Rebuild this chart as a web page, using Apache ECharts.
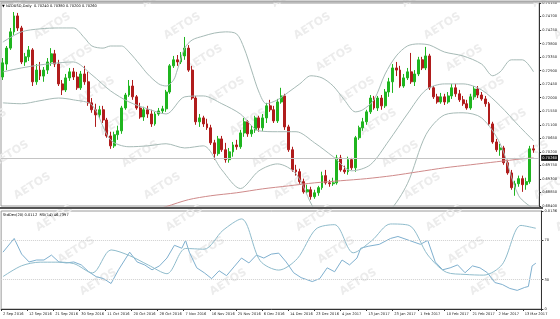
<!DOCTYPE html>
<html>
<head>
<meta charset="utf-8">
<script src="https://cdn.jsdelivr.net/npm/echarts@6/dist/echarts.min.js"></script>
<style>
html, body { margin: 0; padding: 0; background: #fff; }
#chart { width: 560px; height: 319px; }
</style>
</head>
<body>
<div id="chart"></div>
<script>
// date labels shown every 7 bars on the bottom axis
var dateLabels = ['2 Sep 2016', '12 Sep 2016', '21 Sep 2016', '30 Sep 2016', '11 Oct 2016', '20 Oct 2016',
    '28 Oct 2016', '7 Nov 2016', '16 Nov 2016', '25 Nov 2016', '6 Dec 2016', '14 Dec 2016', '23 Dec 2016',
    '4 Jan 2017', '13 Jan 2017', '23 Jan 2017', '1 Feb 2017', '10 Feb 2017', '21 Feb 2017', '2 Mar 2017', '13 Mar 2017'];

// daily bars: [open, close, low, high]
var ohlc = [
    [0.7269, 0.7316, 0.7259, 0.7332], [0.7312, 0.7365, 0.7292, 0.7372], [0.7365, 0.7419, 0.7359, 0.7432], [0.7419, 0.7472, 0.7409, 0.7485],
    [0.7472, 0.7432, 0.7422, 0.7482], [0.7432, 0.7319, 0.7312, 0.7439], [0.7319, 0.7336, 0.7306, 0.7349], [0.7336, 0.7359, 0.7322, 0.7372],
    [0.7359, 0.7253, 0.7239, 0.7365], [0.7253, 0.7292, 0.7243, 0.7312], [0.7292, 0.7272, 0.7259, 0.7319], [0.7272, 0.7292, 0.7253, 0.7302],
    [0.7292, 0.7319, 0.7279, 0.7332], [0.7319, 0.7346, 0.7306, 0.7365], [0.7346, 0.7312, 0.7302, 0.7359], [0.7312, 0.7246, 0.7239, 0.7326],
    [0.7246, 0.7226, 0.7209, 0.7259], [0.7226, 0.7266, 0.7219, 0.7279], [0.7266, 0.7286, 0.7256, 0.7299], [0.7286, 0.7269, 0.7259, 0.7299],
    [0.7269, 0.7233, 0.7226, 0.7286], [0.7233, 0.7279, 0.7226, 0.7289], [0.7279, 0.7253, 0.7243, 0.7306], [0.7253, 0.7183, 0.7173, 0.7286],
    [0.7183, 0.7160, 0.7150, 0.7199], [0.7160, 0.7143, 0.7103, 0.7180], [0.7143, 0.7160, 0.7133, 0.7173], [0.7160, 0.7126, 0.7116, 0.7173],
    [0.7126, 0.7073, 0.7067, 0.7133], [0.7073, 0.7040, 0.7030, 0.7087], [0.7040, 0.7077, 0.7033, 0.7087], [0.7077, 0.7090, 0.7060, 0.7107],
    [0.7090, 0.7166, 0.7080, 0.7173], [0.7166, 0.7209, 0.7160, 0.7216], [0.7209, 0.7239, 0.7203, 0.7259], [0.7239, 0.7203, 0.7193, 0.7259],
    [0.7203, 0.7166, 0.7160, 0.7209], [0.7166, 0.7136, 0.7130, 0.7183], [0.7136, 0.7160, 0.7123, 0.7170], [0.7160, 0.7146, 0.7133, 0.7173],
    [0.7146, 0.7113, 0.7103, 0.7160], [0.7113, 0.7146, 0.7107, 0.7153], [0.7146, 0.7156, 0.7140, 0.7166], [0.7156, 0.7163, 0.7146, 0.7173],
    [0.7163, 0.7219, 0.7153, 0.7226], [0.7219, 0.7306, 0.7213, 0.7312], [0.7306, 0.7326, 0.7299, 0.7339], [0.7326, 0.7319, 0.7306, 0.7342],
    [0.7319, 0.7339, 0.7312, 0.7352], [0.7339, 0.7365, 0.7326, 0.7402], [0.7365, 0.7292, 0.7286, 0.7375], [0.7292, 0.7199, 0.7193, 0.7306],
    [0.7199, 0.7120, 0.7110, 0.7206], [0.7120, 0.7133, 0.7103, 0.7146], [0.7133, 0.7113, 0.7103, 0.7140], [0.7113, 0.7100, 0.7093, 0.7130],
    [0.7100, 0.7050, 0.7043, 0.7110], [0.7050, 0.7014, 0.6994, 0.7060], [0.7014, 0.7063, 0.7007, 0.7073], [0.7063, 0.7027, 0.7020, 0.7073],
    [0.7027, 0.6994, 0.6984, 0.7050], [0.6994, 0.7020, 0.6984, 0.7033], [0.7020, 0.7043, 0.7004, 0.7053], [0.7043, 0.7037, 0.7027, 0.7060],
    [0.7037, 0.7083, 0.7030, 0.7093], [0.7083, 0.7120, 0.7070, 0.7133], [0.7120, 0.7080, 0.7070, 0.7126], [0.7080, 0.7093, 0.7070, 0.7107],
    [0.7093, 0.7133, 0.7083, 0.7140], [0.7133, 0.7100, 0.7087, 0.7140], [0.7100, 0.7133, 0.7090, 0.7146], [0.7133, 0.7173, 0.7116, 0.7183],
    [0.7173, 0.7160, 0.7153, 0.7193], [0.7160, 0.7123, 0.7116, 0.7173], [0.7123, 0.7186, 0.7116, 0.7196], [0.7186, 0.7206, 0.7180, 0.7233],
    [0.7206, 0.7103, 0.7093, 0.7213], [0.7103, 0.7027, 0.7020, 0.7110], [0.7027, 0.6960, 0.6954, 0.7037], [0.6960, 0.6954, 0.6941, 0.6977],
    [0.6954, 0.6921, 0.6914, 0.6964], [0.6921, 0.6887, 0.6881, 0.6931], [0.6887, 0.6894, 0.6881, 0.6911], [0.6894, 0.6871, 0.6861, 0.6904],
    [0.6871, 0.6884, 0.6864, 0.6894], [0.6884, 0.6901, 0.6874, 0.6907], [0.6901, 0.6941, 0.6894, 0.6954], [0.6941, 0.6917, 0.6911, 0.6960],
    [0.6917, 0.6914, 0.6904, 0.6927], [0.6914, 0.6917, 0.6907, 0.6934], [0.6917, 0.7000, 0.6911, 0.7010], [0.7000, 0.6960, 0.6954, 0.7010],
    [0.6960, 0.6954, 0.6947, 0.6974], [0.6954, 0.6994, 0.6944, 0.7004], [0.6994, 0.6967, 0.6960, 0.7000], [0.6967, 0.7067, 0.6954, 0.7073],
    [0.7067, 0.7100, 0.7060, 0.7107], [0.7100, 0.7120, 0.7090, 0.7133], [0.7120, 0.7153, 0.7110, 0.7160], [0.7153, 0.7199, 0.7146, 0.7209],
    [0.7199, 0.7166, 0.7160, 0.7206], [0.7166, 0.7199, 0.7156, 0.7206], [0.7199, 0.7173, 0.7160, 0.7209], [0.7173, 0.7219, 0.7166, 0.7229],
    [0.7219, 0.7253, 0.7203, 0.7266], [0.7253, 0.7299, 0.7216, 0.7312], [0.7299, 0.7292, 0.7272, 0.7319], [0.7292, 0.7239, 0.7233, 0.7306],
    [0.7239, 0.7266, 0.7233, 0.7279], [0.7266, 0.7286, 0.7259, 0.7299], [0.7286, 0.7253, 0.7246, 0.7349], [0.7253, 0.7279, 0.7239, 0.7292],
    [0.7279, 0.7326, 0.7272, 0.7336], [0.7326, 0.7299, 0.7292, 0.7336], [0.7299, 0.7339, 0.7292, 0.7369], [0.7339, 0.7233, 0.7226, 0.7346],
    [0.7233, 0.7203, 0.7196, 0.7239], [0.7203, 0.7186, 0.7180, 0.7213], [0.7186, 0.7203, 0.7180, 0.7216], [0.7203, 0.7186, 0.7176, 0.7213],
    [0.7186, 0.7206, 0.7180, 0.7219], [0.7206, 0.7233, 0.7196, 0.7246], [0.7233, 0.7213, 0.7203, 0.7246], [0.7213, 0.7193, 0.7186, 0.7226],
    [0.7193, 0.7180, 0.7173, 0.7206], [0.7180, 0.7166, 0.7160, 0.7193], [0.7166, 0.7203, 0.7160, 0.7213], [0.7203, 0.7229, 0.7193, 0.7239],
    [0.7229, 0.7209, 0.7199, 0.7239], [0.7209, 0.7196, 0.7190, 0.7219], [0.7196, 0.7180, 0.7170, 0.7206], [0.7180, 0.7113, 0.7107, 0.7186],
    [0.7113, 0.7053, 0.7047, 0.7120], [0.7053, 0.7027, 0.7020, 0.7063], [0.7027, 0.7033, 0.7007, 0.7047], [0.7033, 0.6984, 0.6977, 0.7040],
    [0.6984, 0.6950, 0.6944, 0.6994], [0.6950, 0.6901, 0.6894, 0.6960], [0.6901, 0.6914, 0.6874, 0.6924], [0.6914, 0.6931, 0.6904, 0.6941],
    [0.6931, 0.6911, 0.6887, 0.6941], [0.6911, 0.6921, 0.6894, 0.6934], [0.6921, 0.7030, 0.6914, 0.7040], [0.7030, 0.7026, 0.7017, 0.7043]
];

// Bollinger bands (20): [bar, price]
var bbUpper = [[0, 0.7385], [5, 0.7419], [10, 0.7429], [15, 0.7432], [19, 0.7432], [22, 0.7399], [24, 0.7372], [27, 0.7365],
    [29, 0.7372], [32, 0.7372], [34, 0.7352], [37, 0.7309], [39, 0.7279], [42, 0.7246], [44, 0.7239], [46, 0.7259], [47, 0.7292],
    [49, 0.7365], [51, 0.7392], [54, 0.7405], [57, 0.7415], [60, 0.7419], [63, 0.7412], [65, 0.7365], [67, 0.7292], [69, 0.7219],
    [71, 0.7180], [74, 0.7193], [77, 0.7219], [80, 0.7246], [83, 0.7273], [86, 0.7266], [89, 0.7239], [92, 0.7193], [95, 0.7153],
    [97, 0.7160], [100, 0.7193], [103, 0.7279], [106, 0.7339], [109, 0.7372], [112, 0.7379], [115, 0.7375], [119, 0.7352],
    [124, 0.7339], [129, 0.7312], [132, 0.7273], [134, 0.7286], [137, 0.7326], [140, 0.7326], [143, 0.7286]];
var bbMiddle = [[0, 0.7286], [5, 0.7299], [10, 0.7309], [15, 0.7316], [19, 0.7319], [24, 0.7276], [29, 0.7223], [34, 0.7186],
    [39, 0.7163], [44, 0.7146], [49, 0.7203], [54, 0.7206], [59, 0.7180], [64, 0.7146], [69, 0.7090], [74, 0.7087], [79, 0.7087],
    [84, 0.7050], [89, 0.7004], [94, 0.6957], [99, 0.6977], [104, 0.7057], [109, 0.7146], [114, 0.7226], [119, 0.7246],
    [124, 0.7246], [129, 0.7226], [134, 0.7173], [139, 0.7107], [143, 0.7057]];
var bbLower = [[0, 0.7183], [5, 0.7180], [10, 0.7190], [15, 0.7199], [19, 0.7193], [24, 0.7176], [29, 0.7060], [34, 0.7037],
    [39, 0.7040], [44, 0.7047], [49, 0.7033], [54, 0.7040], [59, 0.6960], [64, 0.6898], [69, 0.6957], [74, 0.6980], [79, 0.6947],
    [84, 0.6828], [89, 0.6768], [94, 0.6801], [99, 0.6788], [104, 0.6821], [109, 0.6914], [114, 0.7077], [119, 0.7143],
    [124, 0.7150], [129, 0.7133], [134, 0.7047], [139, 0.6874], [143, 0.6831]];

// long moving average (red)
var maLine = [[42, 0.6831], [44, 0.6838], [50, 0.6861], [56, 0.6874], [63, 0.6884], [70, 0.6897], [77, 0.6907], [84, 0.6917],
    [91, 0.6924], [98, 0.6931], [105, 0.6941], [112, 0.6954], [119, 0.6967], [126, 0.6977], [133, 0.6987], [140, 0.6997], [143, 0.7000]];

// lower pane
var rsiLine = [[0, 58], [3, 72], [5, 56], [7, 48], [9, 50], [11, 50], [13, 55], [15, 48], [17, 47], [19, 48], [21, 45], [23, 38],
    [25, 33], [27, 31], [29, 26], [31, 40], [33, 52], [34, 58], [36, 48], [38, 45], [40, 40], [42, 44], [44, 52], [46, 65], [48, 62],
    [49, 70], [50, 58], [52, 42], [54, 37], [56, 31], [58, 39], [60, 34], [62, 43], [64, 52], [66, 47], [68, 55], [70, 52], [72, 56],
    [74, 57], [76, 48], [78, 37], [80, 32], [83, 28], [85, 31], [87, 42], [89, 38], [91, 50], [93, 45], [95, 52], [96, 62], [98, 64],
    [101, 66], [104, 72], [106, 74], [109, 70], [112, 66], [114, 70], [116, 48], [118, 40], [120, 42], [122, 45], [124, 37], [126, 44],
    [128, 42], [130, 37], [132, 27], [134, 25], [136, 21], [138, 19], [140, 22], [141, 23], [142, 44], [143, 46.7397]];
var stdDevLine = [[0, 0.0045], [5, 0.0060], [10, 0.0065], [14, 0.0065], [19, 0.0063], [24, 0.0050], [29, 0.0082], [34, 0.0074],
    [39, 0.0061], [44, 0.0049], [49, 0.0084], [54, 0.0083], [59, 0.0109], [64, 0.0125], [69, 0.0067], [74, 0.0054], [79, 0.0070],
    [84, 0.0111], [89, 0.0117], [94, 0.0078], [99, 0.0095], [104, 0.0118], [109, 0.0116], [114, 0.0075], [119, 0.0051], [124, 0.0048],
    [129, 0.0047], [134, 0.0062], [139, 0.0116], [143, 0.0112]];

var lastPrice = 0.7026;
var rsiLevels = [70, 30];

var chart = echarts.init(document.getElementById('chart'));

// one spare slot on the right like the terminal's chart shift
var cats = [];
for (var i = 0; i <= ohlc.length; i++) cats.push(String(i));

var txtFont = '"DejaVu Sans", sans-serif';

// faint diagonal watermark
var marks = [];
for (var r = -2; r < 10; r++) {
    for (var c = -1; c < 6; c++) {
        marks.push({
            type: 'text', silent: true, z: 0,
            x: 10 + c * 130 + r * 22, y: r * 32, rotation: 0.55,
            style: { text: 'AETOS', fill: '#ececec', font: 'bold 11px ' + txtFont }
        });
    }
}
marks.push({ type: 'text', silent: true, z: 50, x: 2, y: 4,
    style: { text: '\u25BC NZDUSD,Daily  0.70240 0.70380 0.70200 0.70260', fill: '#000', font: '3.6px ' + txtFont } });
marks.push({ type: 'text', silent: true, z: 50, x: 3, y: 213,
    style: { text: 'StdDev(20) 0.0112  RSI(14) 46.7397', fill: '#000', font: '3.6px ' + txtFont } });
marks.push({ type: 'line', silent: true, z: 50, shape: { x1: 0, y1: 208, x2: 543, y2: 208 }, style: { stroke: '#555', lineWidth: 2 } });
marks.push({ type: 'line', silent: true, z: 50, shape: { x1: 0, y1: 1.5, x2: 560, y2: 1.5 }, style: { stroke: '#aaa', lineWidth: 2 } });

function showDate(idx) { return idx % 7 === 0 && idx / 7 < dateLabels.length; }

var option = {
    backgroundColor: '#fff',
    animation: false,
    graphic: marks,
    grid: [
        { left: 1, top: 3, width: 541.4, height: 203, show: true, borderColor: '#9a9a9a', borderWidth: 1 },
        { left: 1, top: 211, width: 541.4, height: 98, show: true, borderColor: '#9a9a9a', borderWidth: 1 }
    ],
    xAxis: [
        { type: 'category', gridIndex: 0, data: cats, boundaryGap: true,
          axisLine: { show: false }, axisTick: { show: false }, axisLabel: { show: false } },
        { type: 'category', gridIndex: 1, data: cats, boundaryGap: true,
          axisLine: { show: true, lineStyle: { color: '#333' } },
          axisTick: { show: true, interval: function (idx) { return showDate(idx); }, length: 2, lineStyle: { color: '#333' } },
          axisLabel: { interval: function (idx) { return showDate(idx); }, align: 'left', margin: 3,
              fontSize: 3.6, color: '#222', fontFamily: txtFont,
              formatter: function (v, idx) { return dateLabels[idx / 7] || ''; } } }
    ],
    yAxis: [
        { type: 'value', gridIndex: 0, position: 'right', min: 0.684, max: 0.7515, interval: 0.0045,
          splitLine: { show: false },
          axisLine: { show: true, lineStyle: { color: '#333' } },
          axisTick: { show: true, length: 2, lineStyle: { color: '#333' } },
          axisLabel: { fontSize: 3.6, color: '#222', margin: 3, fontFamily: txtFont,
              formatter: function (v) { return v.toFixed(5); } } },
        { type: 'value', gridIndex: 1, position: 'right', min: 0, max: 100,
          splitLine: { show: false },
          axisLine: { show: true, lineStyle: { color: '#333' } },
          axisTick: { show: true, length: 2, customValues: [0, 30, 70], lineStyle: { color: '#333' } },
          axisLabel: { fontSize: 3.6, color: '#222', margin: 3, fontFamily: txtFont, customValues: [0, 30, 70] } },
        { type: 'value', gridIndex: 1, position: 'right', min: 0, max: 0.0136,
          splitLine: { show: false }, axisLine: { show: false },
          axisTick: { show: true, length: 2, customValues: [0.0136], lineStyle: { color: '#333' } },
          axisLabel: { fontSize: 3.6, color: '#222', margin: 3, fontFamily: txtFont, customValues: [0.0136],
              formatter: function (v) { return v.toFixed(4); } } }
    ],
    series: [
        {
            type: 'candlestick', xAxisIndex: 0, yAxisIndex: 0, data: ohlc, barWidth: 2.4,
            itemStyle: { color: '#1fb51f', color0: '#b01c1c', borderColor: '#1fb51f', borderColor0: '#b01c1c', borderWidth: 1 },
            markLine: {
                silent: true, symbol: ['none', 'none'],
                lineStyle: { color: '#c4c4c4', type: 'solid', width: 1 },
                label: { position: 'end', distance: 2, formatter: lastPrice.toFixed(5), color: '#fff',
                    backgroundColor: '#111', padding: [1, 1], fontSize: 3.6, fontFamily: txtFont },
                data: [{ yAxis: lastPrice }]
            }
        },
        { type: 'line', xAxisIndex: 0, yAxisIndex: 0, data: bbUpper, symbol: 'none', smooth: 0.3,
          lineStyle: { color: '#a6bab6', width: 1 } },
        { type: 'line', xAxisIndex: 0, yAxisIndex: 0, data: bbMiddle, symbol: 'none', smooth: 0.3,
          lineStyle: { color: '#a6bab6', width: 1 } },
        { type: 'line', xAxisIndex: 0, yAxisIndex: 0, data: bbLower, symbol: 'none', smooth: 0.3,
          lineStyle: { color: '#a6bab6', width: 1 } },
        { type: 'line', xAxisIndex: 0, yAxisIndex: 0, data: maLine, symbol: 'none', smooth: 0.3,
          lineStyle: { color: '#cf8a8a', width: 1 } },
        { type: 'line', xAxisIndex: 1, yAxisIndex: 1, data: rsiLine, symbol: 'none',
          lineStyle: { color: '#7fb0cf', width: 1 },
          markLine: { silent: true, symbol: ['none', 'none'], label: { show: false },
              lineStyle: { color: '#cfcfcf', type: 'dotted', width: 1 },
              data: rsiLevels.map(function (v) { return { yAxis: v }; }) } },
        { type: 'line', xAxisIndex: 1, yAxisIndex: 2, data: stdDevLine, symbol: 'none', smooth: 0.3,
          lineStyle: { color: '#8fbccc', width: 1 } }
    ]
};

chart.setOption(option);
</script>
</body>
</html>
